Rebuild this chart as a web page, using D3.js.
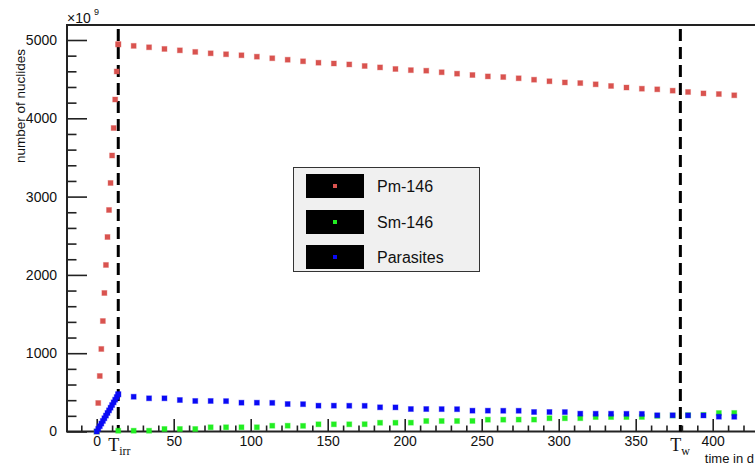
<!DOCTYPE html>
<html>
<head>
<meta charset="utf-8">
<script src="https://cdn.jsdelivr.net/npm/d3@7"></script>
<style>
body { margin: 0; background: #fff; }
svg { display: block; }
</style>
</head>
<body>
<svg width="755" height="468"></svg>
<script>
// time points (days)
var tRise = [0,1,2,3,4,5,6,7,8,9,10,11,12,13,14];
var tDecay = [14,24,34,44,54,64,74,84,94,104,114,124,134,144,154,164,174,184,194,204,
  214,224,234,244,254,264,274,284,294,304,314,324,334,344,354,364,374,384,394,404,414];
var tSmStart = [0];

// values in units of 10^9 nuclides
var pmRise = [0,364,709,1054,1411,1769,2127,2484,2829,3174,3525,3876,4240,4598,4945];
var pmDecay = [4945,4925,4907,4886,4868,4848,4830,4818,4805,4787,4767,4748,4728,4710,4700,4688,4668,4650,4630,4615,
  4608,4588,4570,4553,4535,4527,4511,4493,4473,4458,4450,4434,4413,4393,4378,4370,4353,4336,4318,4310,4294];

var smStart = [0];
var smDecay = [10,10,10,32,32,32,54,54,54,54,74,74,72,92,92,92,93,112,112,113,
  134,134,134,135,151,151,152,152,169,169,170,185,185,185,186,200,204,208,212,236,237];

var parRise = [0,34,68,101,135,169,203,237,270,304,338,372,406,440,475];
var parDecay = [475,444,424,424,402,390,390,388,368,368,366,351,349,330,330,329,328,309,308,287,
  287,286,285,266,266,265,265,249,249,248,228,227,227,226,225,207,207,206,205,189,188];

var seriesNames = ["Pm-146", "Sm-146", "Parasites"];
var seriesColors = ["#d9534f", "#22ee22", "#0a0af5"];

var tIrr = 14;
var tW = 379;

var xTicksMajor = [0,50,100,150,200,250,300,350,400];
var yTicksMajor = [0,1000,2000,3000,4000,5000];

var svg = d3.select("svg");

var frameL = 67, frameT = 25, frameR = 758, frameB = 431.5;

var x = d3.scaleLinear().domain([0, 400]).range([96.7, 712.7]);
var y = d3.scaleLinear().domain([0, 5000]).range([431.5, 40]);

var font = "'Liberation Sans', Arial, Helvetica, sans-serif";

// frame
svg.append("path")
  .attr("d", "M" + frameR + "," + frameT + "H" + frameL + "V" + frameB + "H" + frameR)
  .attr("fill", "none")
  .attr("stroke", "#222")
  .attr("stroke-width", 2);

// x axis minor ticks
var xMinor = d3.range(-10, 430, 10).filter(function(d) { return xTicksMajor.indexOf(d) < 0; });
svg.append("g")
  .attr("transform", "translate(0," + frameB + ")")
  .call(d3.axisBottom(x).tickValues(xMinor).tickSize(-6).tickFormat(""))
  .call(function(g) { g.select(".domain").remove(); });

svg.append("g")
  .attr("transform", "translate(0," + frameB + ")")
  .call(d3.axisBottom(x).tickValues(xTicksMajor).tickSize(-12.5).tickPadding(5).tickFormat(d3.format("d")))
  .call(function(g) { g.select(".domain").remove(); })
  .call(function(g) {
    g.selectAll("text").attr("font-family", font).attr("font-size", "14px").attr("fill", "#111");
  });

// y axis ticks
var yMinor = d3.range(200, 5100, 200).filter(function(d) { return yTicksMajor.indexOf(d) < 0; });
svg.append("g")
  .attr("transform", "translate(" + frameL + ",0)")
  .call(d3.axisLeft(y).tickValues(yMinor).tickSize(-9.5).tickFormat(""))
  .call(function(g) { g.select(".domain").remove(); });

svg.append("g")
  .attr("transform", "translate(" + frameL + ",0)")
  .call(d3.axisLeft(y).tickValues(yTicksMajor).tickSize(-20).tickPadding(10).tickFormat(d3.format("d")))
  .call(function(g) { g.select(".domain").remove(); })
  .call(function(g) {
    g.selectAll("text").attr("font-family", font).attr("font-size", "14px").attr("fill", "#111");
  });

svg.selectAll(".tick line").attr("stroke", "#222").attr("stroke-width", 1.6);

// exponent
svg.append("text")
  .attr("x", 67).attr("y", 23)
  .attr("font-family", font).attr("font-size", "14px").attr("fill", "#111")
  .text("\u00d710");
svg.append("text")
  .attr("x", 94).attr("y", 15)
  .attr("font-family", font).attr("font-size", "9px").attr("fill", "#111")
  .text("9");

// axis titles
svg.append("text")
  .attr("transform", "translate(24.5,49) rotate(-90)")
  .attr("text-anchor", "end")
  .attr("font-family", font).attr("font-size", "13.5px").attr("fill", "#111")
  .text("number of nuclides");

svg.append("text")
  .attr("x", 754).attr("y", 463)
  .attr("text-anchor", "end")
  .attr("font-family", font).attr("font-size", "13px").attr("fill", "#111")
  .text("time in d");

// dashed lines
[tIrr, tW].forEach(function(t) {
  svg.append("line")
    .attr("x1", x(t)).attr("x2", x(t))
    .attr("y1", frameT + 4).attr("y2", frameB)
    .attr("stroke", "#000")
    .attr("stroke-width", 3)
    .attr("stroke-dasharray", "12,6");
});

// T labels
var tLabels = [{t: tIrr, sub: "irr"}, {t: tW, sub: "w"}];
tLabels.forEach(function(d) {
  var lab = svg.append("text")
    .attr("x", x(d.t) - 10).attr("y", 451)
    .attr("font-family", "'Liberation Serif', 'Times New Roman', serif")
    .attr("font-size", "18px").attr("fill", "#111");
  lab.append("tspan").text("T");
  lab.append("tspan").attr("dy", 4).attr("font-size", "12px").text(d.sub);
});

// data points
var series = [
  {t: tRise.concat(tDecay), v: pmRise.concat(pmDecay)},
  {t: tSmStart.concat(tDecay), v: smStart.concat(smDecay)},
  {t: tRise.concat(tDecay), v: parRise.concat(parDecay)}
];

series.forEach(function(s, i) {
  var pts = s.t.map(function(t, j) { return {t: t, v: s.v[j]}; });
  svg.append("g").selectAll("rect")
    .data(pts)
    .enter()
    .append("rect")
    .attr("x", function(d) { return x(d.t) - 2.5; })
    .attr("y", function(d) { return y(d.v) - 2.5; })
    .attr("width", 5)
    .attr("height", 5)
    .attr("fill", seriesColors[i])
    .attr("stroke", seriesColors[i])
    .attr("stroke-opacity", 0.35)
    .attr("stroke-width", 1);
});

// legend
var legend = svg.append("g");
legend.append("rect")
  .attr("x", 293.5).attr("y", 167.5)
  .attr("width", 186).attr("height", 104)
  .attr("fill", "#f0f0f0")
  .attr("stroke", "#333")
  .attr("stroke-width", 1);

var rowY = [174, 210, 245];
seriesNames.forEach(function(name, i) {
  legend.append("rect")
    .attr("x", 306).attr("y", rowY[i])
    .attr("width", 58).attr("height", 24)
    .attr("fill", "#000");
  legend.append("rect")
    .attr("x", 333).attr("y", rowY[i] + 10)
    .attr("width", 4).attr("height", 4)
    .attr("fill", seriesColors[i]);
  legend.append("text")
    .attr("x", 377).attr("y", rowY[i] + 18)
    .attr("font-family", font).attr("font-size", "16px").attr("fill", "#111")
    .text(name);
});
</script>
</body>
</html>
